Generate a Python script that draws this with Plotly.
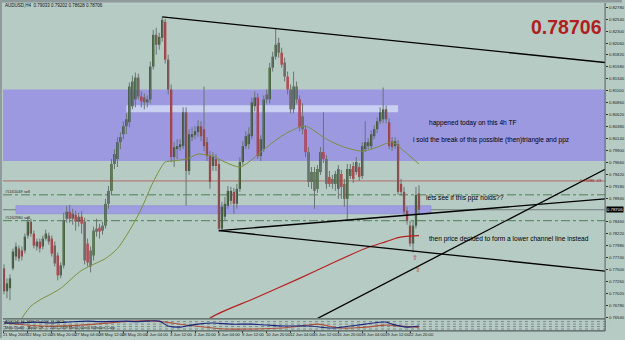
import plotly.graph_objects as go

# ---------------- data (AUDUSD H4) ----------------
open_ = [0.77526,0.77066,0.77126,0.77526,0.77766,0.77926,0.77886,0.77886,0.78186,0.78466,
         0.78226,0.77966,0.78066,0.77966,0.78126,0.78186,0.78126,0.77986,0.77786,0.77386,
         0.77586,0.78526,0.78666,0.78526,0.78606,0.78466,0.78566,0.78466,0.78026,0.77886,
         0.77786,0.78266,0.78346,0.78286,0.78386,0.78826,0.79086,0.79626,0.79726,0.80066,
         0.80226,0.80386,0.80466,0.80786,0.80926,0.81366,0.80986,0.80966,0.80866,0.80926,
         0.81586,0.82226,0.82026,0.82166,0.82486,0.81726,0.81126,0.79766,0.79926,0.79966,
         0.79986,0.80666,0.79486,0.80166,0.80206,0.80266,0.80386,0.80326,0.80066,0.79786,
         0.79586,0.79726,0.79626,0.78326,0.78566,0.78786,0.78886,0.79066,0.78826,0.79126,
         0.79666,0.79986,0.80026,0.80186,0.80786,0.80966,0.79786,0.79926,0.81026,0.80926,
         0.81566,0.81786,0.82066,0.81866,0.81666,0.81386,0.81126,0.80726,0.81186,0.80926,
         0.80586,0.80326,0.79866,0.79266,0.79466,0.79126,0.79466,0.79866,0.79726,0.79366,
         0.79326,0.79226,0.79126,0.79426,0.79226,0.78926,0.79386,0.79586,0.79466,0.79566,
         0.79386,0.79926,0.79986,0.79986,0.80186,0.80326,0.80486,0.80526,0.80726,0.80466,
         0.80086,0.79986,0.80026,0.79226,0.79066,0.78686,0.78386,0.78026,0.78386,0.79033]
high = [0.77606,0.77326,0.77406,0.77926,0.78046,0.77986,0.77966,0.78226,0.78566,0.78526,
        0.78286,0.78126,0.78126,0.78186,0.78306,0.78246,0.78186,0.78066,0.77846,0.77646,
        0.78646,0.78786,0.78806,0.78726,0.78686,0.78646,0.78686,0.78546,0.78126,0.77966,
        0.78366,0.78526,0.78426,0.78466,0.78926,0.79186,0.79726,0.79926,0.80166,0.80266,
        0.80486,0.80646,0.81266,0.81406,0.81466,0.81446,0.81086,0.81046,0.81006,0.81686,
        0.82326,0.82366,0.82266,0.82586,0.82546,0.81826,0.81226,0.80066,0.80126,0.80126,
        0.80766,0.80766,0.80326,0.80366,0.80386,0.80506,0.80486,0.81186,0.80166,0.79886,
        0.79866,0.79826,0.79726,0.78866,0.78966,0.79186,0.79166,0.79146,0.79226,0.79766,
        0.80086,0.80286,0.80366,0.80966,0.81086,0.81046,0.80206,0.81006,0.81126,0.81666,
        0.81886,0.82366,0.82166,0.81966,0.81766,0.81486,0.81226,0.81486,0.81286,0.81006,
        0.80846,0.80406,0.79966,0.79566,0.79566,0.79606,0.79966,0.80666,0.79806,0.79486,
        0.79406,0.79486,0.79606,0.79506,0.79326,0.79626,0.79626,0.79666,0.79766,0.79646,
        0.80066,0.80486,0.80146,0.80306,0.80406,0.80566,0.80766,0.81166,0.80806,0.80546,
        0.80166,0.80166,0.80106,0.79326,0.79166,0.78766,0.78486,0.78486,0.79166,0.79202]
low = [0.77006,0.76926,0.76886,0.77486,0.77686,0.77666,0.77686,0.77826,0.78126,0.78166,
       0.77926,0.77886,0.77846,0.77906,0.78086,0.78006,0.77766,0.77566,0.77286,0.77326,
       0.77526,0.78446,0.78446,0.78406,0.78286,0.78366,0.78226,0.77606,0.77566,0.77446,
       0.77686,0.78166,0.78126,0.78206,0.78326,0.78726,0.79006,0.79526,0.79566,0.79926,
       0.80126,0.80226,0.80366,0.80726,0.80766,0.80926,0.80766,0.80726,0.80766,0.80846,
       0.81526,0.81826,0.81926,0.82086,0.81646,0.81026,0.79666,0.79566,0.79726,0.79886,
       0.79926,0.78786,0.79406,0.80086,0.80126,0.80166,0.80086,0.79886,0.79686,0.79126,
       0.79486,0.79486,0.78266,0.78266,0.78486,0.78726,0.78806,0.78626,0.78726,0.79066,
       0.79606,0.79926,0.79926,0.80126,0.80686,0.79726,0.79686,0.79866,0.80846,0.80846,
       0.81486,0.81726,0.81766,0.81566,0.81286,0.81026,0.80646,0.80646,0.80846,0.80286,
       0.80226,0.79766,0.79166,0.79126,0.78726,0.79046,0.79406,0.79646,0.79126,0.79166,
       0.79126,0.79086,0.78926,0.78926,0.78766,0.78486,0.79326,0.79246,0.79406,0.79286,
       0.79326,0.79866,0.79926,0.79926,0.80126,0.80246,0.80426,0.80446,0.80446,0.79926,
       0.79886,0.79926,0.79006,0.78986,0.78606,0.78406,0.77966,0.77846,0.78326,0.78628]
close = [0.77066,0.77226,0.77326,0.77866,0.77966,0.77726,0.77766,0.78166,0.78466,0.78226,
         0.77986,0.78066,0.77926,0.78126,0.78226,0.78066,0.77826,0.77626,0.77386,0.77586,
         0.78486,0.78666,0.78526,0.78626,0.78466,0.78566,0.78426,0.77686,0.77646,0.77566,
         0.78286,0.78326,0.78266,0.78386,0.78826,0.79086,0.79626,0.79826,0.80066,0.80166,
         0.80386,0.80526,0.81186,0.81286,0.81366,0.80986,0.80886,0.80866,0.80926,0.81586,
         0.82226,0.82026,0.82186,0.82526,0.81726,0.81126,0.79766,0.79966,0.79986,0.80026,
         0.80666,0.79486,0.80226,0.80226,0.80286,0.80386,0.80186,0.79986,0.79786,0.79266,
         0.79766,0.79586,0.78326,0.78766,0.78826,0.79086,0.79086,0.78826,0.79126,0.79666,
         0.79986,0.80186,0.80226,0.80866,0.80966,0.79786,0.80126,0.80926,0.80926,0.81566,
         0.81786,0.82026,0.81866,0.81626,0.81386,0.81126,0.80726,0.81186,0.80926,0.80366,
         0.80326,0.79866,0.79266,0.79466,0.79086,0.79526,0.79866,0.79726,0.79226,0.79226,
         0.79226,0.79426,0.79526,0.79166,0.78926,0.79526,0.79526,0.79326,0.79666,0.79366,
         0.79986,0.80066,0.80066,0.80226,0.80326,0.80486,0.80666,0.80726,0.80526,0.79986,
         0.79966,0.80086,0.79066,0.79066,0.78666,0.78486,0.78026,0.78386,0.79006,0.78706]

# time axis labels (bar index, text)
label_idx = [0, 8, 16, 24, 32, 40, 48, 56, 64, 72, 80, 88, 96, 104, 112, 120, 128, 136]
label_txt = ["21 May 2009", "22 May 12:00", "25 May 20:00", "27 May 04:00", "28 May 12:00",
             "29 May 20:00", "2 Jun 04:00", "3 Jun 12:00", "4 Jun 20:00", "8 Jun 04:00",
             "9 Jun 12:00", "10 Jun 20:00", "12 Jun 04:00", "15 Jun 12:00", "16 Jun 20:00",
             "18 Jun 04:00", "19 Jun 12:00", "22 Jun 20:00"]

# price scale ticks (the one under the current-price box is hidden)
price_ticks = [0.76540, 0.76780, 0.77020, 0.77260, 0.77500, 0.77740, 0.77980, 0.78220, 0.78460,
               0.78940, 0.79180, 0.79420, 0.79660, 0.79900, 0.80140, 0.80380, 0.80620, 0.80860,
               0.81100, 0.81340, 0.81580, 0.81820, 0.82060, 0.82300, 0.82540, 0.82780]

# moving averages (bar index, price)
ma_fast_idx = [6, 9, 13, 15, 19, 26, 34, 38, 43, 46, 50, 54, 56, 61, 65, 68, 70, 74, 79, 82,
               88, 94, 100, 102, 108, 114, 120, 125, 130, 134, 139]
ma_fast_val = [0.76526, 0.76766, 0.76926, 0.76986, 0.77126, 0.77486, 0.77726, 0.77926, 0.78386,
               0.78726, 0.79266, 0.79666, 0.79686, 0.79726, 0.79826, 0.79806, 0.79786, 0.79666,
               0.79566, 0.79666, 0.79966, 0.80226, 0.80386, 0.80366, 0.80126, 0.79966, 0.79886,
               0.79966, 0.80066, 0.79886, 0.79626]
ma_slow_idx = [62, 69, 84, 99, 109, 121, 128, 132, 134, 139]
ma_slow_val = [0.76126, 0.76526, 0.76926, 0.77326, 0.77606, 0.77926, 0.78066, 0.78146, 0.78166, 0.78186]

# indicator sub-window (bar index, value)
ind_idx_a = [0, 5, 10, 15, 21, 28, 32, 41, 44, 48, 52, 55, 59, 61, 65, 70, 76, 83, 88, 94,
             102, 110, 116, 121, 128, 130, 135, 139]
ind_val_a = [67, 67, 75, 67, 75, 83, 79, 83, 79, 83, 83, 42, 33, 42, 58, 67, 58, 58, 50, 42,
             42, 25, 42, 58, 75, 58, 33, 42]
ind_idx_b = [0, 13, 26, 43, 49, 54, 61, 70, 74, 83, 93, 102, 105, 113, 121, 128, 132, 138, 139]
ind_val_b = [67, 42, 50, 83, 87, 75, 50, 25, 17, 17, 25, 50, 58, 25, 33, 50, 42, 33, 25]
ind_levels = [79, 58, 37.5, 17]

# drawing objects (bar index, price)
trend_top = [(53, 0.82586), (91, 0.82351)]
trend_tri_low = [(72, 0.78286), (115, 0.78498)]
trend_channel = [(72, 0.78286), (137, 0.77876)]
trend_rising = [(139, 0.77578), (160, 0.78232)]
level_red = 0.79286
order_lines = [(0.79006, "#5161049 sell"), (0.78486, "#5162980 sell")]
last_price = 0.78706
zone_big = (0.79686, 0.81126)
zone_light = (41, 132, 0.80666, 0.80806)
zone_thin = (4, 143, 0.78626, 0.78786)
arrows = [(137.7, 0.77726), (138.7, 0.77486)]
notes = [(141.7, 0.80446, "happened today on this 4h TF"),
         (136.3, 0.80106, "i sold the break of this possible (then)triangle and ppz"),
         (140.7, 0.78946, "lets see if this ppz holds??"),
         (141.7, 0.78126, "then price decided to form a lower channel line instead")]

# ---------------- layout constants ----------------
W, H = 625, 340
BG = "#b7cbc5"
FONT = "Liberation Sans, Arial, sans-serif"
X0, X1 = 3, 608          # plot area in px
YT, YB = 3, 320          # main chart area
SYT, SYB = 322, 332      # sub window
px_per_bar = 3.0
xr = [-1 / 3, -1 / 3 + (X1 - X0) / px_per_bar]
ppx = 0.0002             # price per px
ytop_price = last_price + (211 - YT) * ppx
ybot_price = last_price - (YB - 211) * ppx


def py(v):
    return 1 - v / H


fig = go.Figure()

# wicks
wx, wy = [], []
for i, (h, l) in enumerate(zip(high, low)):
    wx += [i, i, None]
    wy += [h, l, None]
fig.add_trace(go.Scatter(x=wx, y=wy, mode="lines", line=dict(color="#6a7472", width=1),
                         hoverinfo="skip"))

up = [i for i in range(len(close)) if close[i] >= open_[i]]
dn = [i for i in range(len(close)) if close[i] < open_[i]]
fig.add_trace(go.Bar(x=up, y=[close[i] - open_[i] for i in up], base=[open_[i] for i in up],
                     width=0.75, marker=dict(color="#2b4a1b", line=dict(width=0))))
fig.add_trace(go.Bar(x=dn, y=[close[i] - open_[i] for i in dn], base=[open_[i] for i in dn],
                     width=0.75, marker=dict(color="#b3262c", line=dict(width=0))))

# moving averages
fig.add_trace(go.Scatter(x=ma_fast_idx, y=ma_fast_val, mode="lines",
                         line=dict(color="#7d8f3a", width=1, shape="spline", smoothing=0.8)))
fig.add_trace(go.Scatter(x=ma_slow_idx, y=ma_slow_val, mode="lines",
                         line=dict(color="#b52020", width=1.2, shape="spline", smoothing=0.8)))


def ray(a, b, start=None, end=None):
    (xa, ya), (xb, yb) = a, b
    k = (yb - ya) / (xb - xa)
    s = xa if start is None else start
    e = xr[1] if end is None else end
    return [s, e], [ya + k * (s - xa), ya + k * (e - xa)]


for pts, st in [(trend_top, None), (trend_tri_low, None), (trend_channel, None),
                (trend_rising, xr[0])]:
    xs, ys = ray(pts[0], pts[1], start=st)
    fig.add_trace(go.Scatter(x=xs, y=ys, mode="lines", line=dict(color="#000000", width=1.3),
                             hoverinfo="skip"))

# indicator
fig.add_trace(go.Scatter(x=ind_idx_b, y=ind_val_b, xaxis="x2", yaxis="y2", mode="lines",
                         line=dict(color="#b0503a", width=1.1, shape="spline")))
fig.add_trace(go.Scatter(x=ind_idx_a, y=ind_val_a, xaxis="x2", yaxis="y2", mode="lines",
                         line=dict(color="#1a237e", width=1.1, shape="spline")))

shapes = []
# zones
shapes.append(dict(type="rect", xref="x domain", yref="y", x0=0, x1=1, y0=zone_big[0],
                   y1=zone_big[1], fillcolor="#9d99e1", line=dict(width=0), layer="below"))
shapes.append(dict(type="rect", xref="x", yref="y", x0=zone_light[0], x1=zone_light[1],
                   y0=zone_light[2], y1=zone_light[3], fillcolor="#c8cff0", line=dict(width=0),
                   layer="below"))
shapes.append(dict(type="rect", xref="x", yref="y", x0=zone_thin[0], x1=zone_thin[1],
                   y0=zone_thin[2], y1=zone_thin[3], fillcolor="#9f9de2",
                   line=dict(width=0.6, color="#8886d0"), layer="below"))
# horizontal levels
shapes.append(dict(type="line", xref="x domain", yref="y", x0=0, x1=1, y0=level_red, y1=level_red,
                   line=dict(color="#b26a66", width=1), layer="below"))
for p, _ in order_lines:
    shapes.append(dict(type="line", xref="x domain", yref="y", x0=0, x1=1, y0=p, y1=p,
                       line=dict(color="#4f7f55", width=1, dash="dashdot"), layer="below"))
shapes.append(dict(type="line", xref="x domain", yref="y", x0=0, x1=1, y0=last_price,
                   y1=last_price, line=dict(color="#6f7c7a", width=1), layer="below"))
# sub window dotted levels
for v in ind_levels:
    shapes.append(dict(type="line", xref="paper", yref="y2", x0=X0 / W, x1=(X1 + 4) / W, y0=v, y1=v,
                       line=dict(color="#7e8a88", width=1, dash="dot"), layer="below"))
# frame
shapes.append(dict(type="rect", xref="paper", yref="paper", x0=0, x1=1, y0=py(2.5), y1=1,
                   fillcolor="#8f9a9c", line=dict(width=0)))
shapes.append(dict(type="rect", xref="paper", yref="paper", x0=0, x1=2 / W, y0=0, y1=1,
                   fillcolor="#8f9a9c", line=dict(width=0)))
for yy in (320.8, 332.8):
    shapes.append(dict(type="line", xref="paper", yref="paper", x0=X0 / W, x1=X1 / W,
                       y0=py(yy), y1=py(yy), line=dict(color="#55605e", width=1.2)))
shapes.append(dict(type="line", xref="paper", yref="paper", x0=X1 / W, x1=X1 / W,
                   y0=py(333), y1=py(YT), line=dict(color="#55605e", width=1)))

ann = []
ann.append(dict(xref="paper", yref="paper", x=X1 / W - 0.001, y=py(27), xanchor="right",
                yanchor="middle", text="<b>0.78706</b>", showarrow=False,
                font=dict(family=FONT, size=19.5, color="#b01e1e")))
ann.append(dict(xref="paper", yref="paper", x=3.5 / W, y=py(5.5), xanchor="left", yanchor="middle",
                text="AUDUSD,H4  0.79033 0.79202 0.78628 0.78706", showarrow=False,
                font=dict(family=FONT, size=4.5, color="#111")))
for xi, p, t in notes:
    ann.append(dict(xref="x", yref="y", x=xi, y=p, xanchor="left", yanchor="middle", text=t,
                    showarrow=False, font=dict(family=FONT, size=6.6, color="#000")))
for p, t in order_lines:
    ann.append(dict(xref="paper", yref="y", x=3.5 / W, y=p, yshift=3, xanchor="left",
                    yanchor="middle", text=t, showarrow=False,
                    font=dict(family=FONT, size=4, color="#1e2a28")))
ann.append(dict(xref="paper", yref="y", x=X1 / W, y=level_red, xanchor="right", yanchor="middle",
                text="0.79286 .03", showarrow=False, xshift=-1,
                font=dict(family=FONT, size=4, color="#8a2020")))
for xi, p in arrows:
    ann.append(dict(xref="x", yref="y", x=xi, y=p, text="⇧", showarrow=False,
                    font=dict(family="DejaVu Sans", size=7, color="#c8282a")))
ann.append(dict(xref="paper", yref="y", x=(X1 + 1) / W, y=last_price, xanchor="left",
                yanchor="middle", text="0.78706", showarrow=False, bgcolor="#000",
                borderpad=0, font=dict(family=FONT, size=4.3, color="#fff")))
for xi, t in zip(label_idx, label_txt):
    ann.append(dict(xref="x", yref="paper", x=xi, y=py(336.6), xanchor="left", yanchor="middle",
                    xshift=-3, text=t, showarrow=False,
                    font=dict(family=FONT, size=4.2, color="#1b2220")))
ann.append(dict(xref="paper", yref="paper", x=3.5 / W, y=py(323.8), xanchor="left",
                yanchor="middle", text="ADX(14) 16.2735 21.4406 23.0912", showarrow=False,
                font=dict(family=FONT, size=3.8, color="#222")))
ann.append(dict(xref="paper", yref="paper", x=3.5 / W, y=py(329.6), xanchor="left",
                yanchor="middle", text="MetaTrader - Alpari UK, © 2001-2009 MetaQuotes Software Corp.",
                showarrow=False, font=dict(family=FONT, size=3.8, color="#222")))

fig.update_layout(
    width=W, height=H, margin=dict(l=0, r=0, t=0, b=0, pad=0),
    paper_bgcolor=BG, plot_bgcolor=BG, showlegend=False, barmode="overlay",
    xaxis=dict(domain=[X0 / W, X1 / W], range=xr, showgrid=False, zeroline=False,
               showticklabels=False, showline=False, fixedrange=True),
    xaxis2=dict(domain=[X0 / W, X1 / W], range=xr, matches="x", anchor="y2", showgrid=False,
                zeroline=False, showticklabels=False, ticks="outside", ticklen=2,
                tickcolor="#333", tickvals=label_idx, showline=False),
    yaxis=dict(domain=[py(YB), py(YT)], range=[ybot_price, ytop_price], side="right",
               showgrid=False, zeroline=False, ticks="outside", ticklen=2, tickcolor="#333",
               tickvals=price_ticks, tickformat=".5f", showline=False,
               tickfont=dict(family=FONT, size=4.2, color="#1b2220")),
    yaxis2=dict(domain=[py(SYB), py(SYT)], range=[(333 - SYB) / 12 * 100, (333 - SYT) / 12 * 100],
                anchor="x2", showgrid=False, zeroline=False, showticklabels=False, showline=False),
    shapes=shapes, annotations=ann,
)

fig.write_html("out.html", config={"displayModeBar": False})
